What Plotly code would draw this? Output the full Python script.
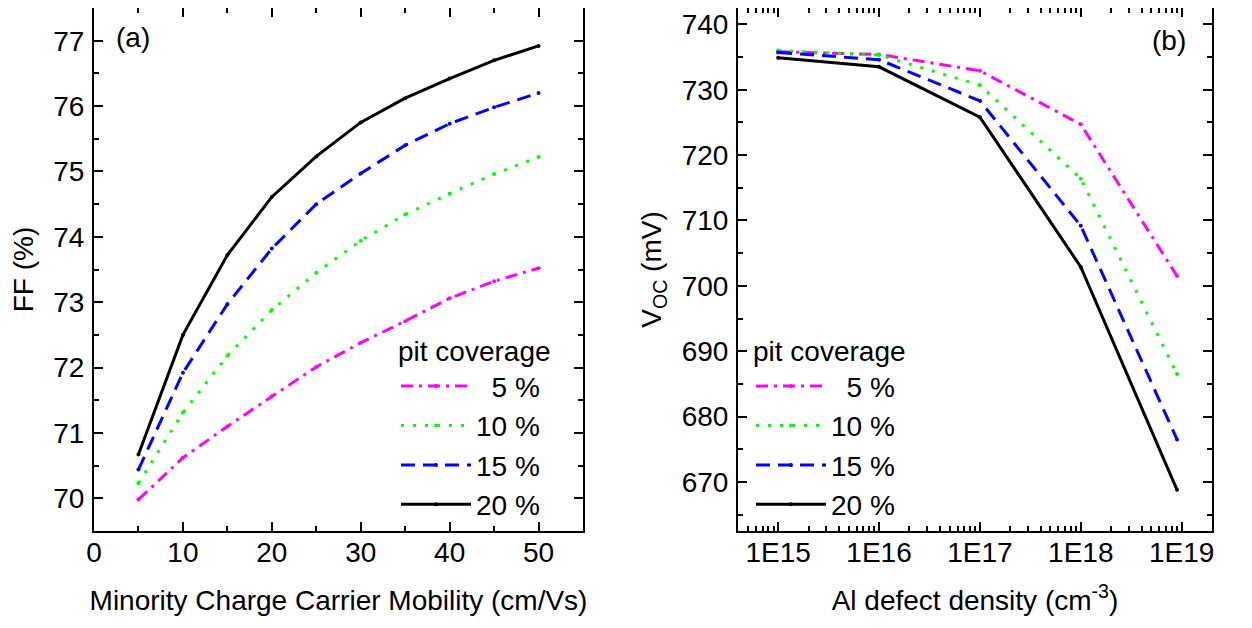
import plotly.graph_objects as go

# ---- data (a) ----
mobility = [5, 10, 15, 20, 25, 30, 35, 40, 45, 50]
ff_5 = [69.98, 70.62, 71.10, 71.56, 72.01, 72.38, 72.71, 73.06, 73.32, 73.52]
ff_10 = [70.23, 71.31, 72.18, 72.88, 73.45, 73.94, 74.34, 74.66, 74.96, 75.22]
ff_15 = [70.44, 71.92, 72.97, 73.82, 74.50, 74.97, 75.40, 75.73, 75.98, 76.20]
ff_20 = [70.67, 72.50, 73.72, 74.61, 75.23, 75.75, 76.12, 76.42, 76.70, 76.92]

# ---- data (b) ----
defect = [1e15, 1e16, 1e17, 1e18, 9e18]
voc_5 = [735.8, 735.4, 732.9, 724.7, 701.5]
voc_10 = [736.0, 735.3, 730.7, 716.4, 686.5]
voc_15 = [735.7, 734.6, 728.3, 709.2, 676.5]
voc_20 = [734.9, 733.5, 725.8, 702.9, 668.8]

labels = ["\u20075 %", "10 %", "15 %", "20 %"]
x_tickvals_b = [1e15, 1e16, 1e17, 1e18, 1e19]
x_ticktext_b = ["1E15", "1E16", "1E17", "1E18", "1E19"]

colors = ["#ff00ff", "#00ff00", "#0000ff", "#000000"]
dashes = ["12px,6px,3px,6px", "3px,9px", "14px,8px", "solid"]

FONT = "Liberation Sans, Arial, sans-serif"
FS = 28

fig = go.Figure()

ff_series = [ff_5, ff_10, ff_15, ff_20]
voc_series = [voc_5, voc_10, voc_15, voc_20]

for i in range(4):
    fig.add_trace(go.Scatter(
        x=mobility, y=ff_series[i], mode="lines+markers", name=labels[i],
        line=dict(color=colors[i], width=3, dash=dashes[i]),
        marker=dict(color=colors[i], size=4),
        xaxis="x", yaxis="y", legend="legend", legendgroup="a%d" % i,
    ))
for i in range(4):
    fig.add_trace(go.Scatter(
        x=defect, y=voc_series[i], mode="lines+markers", name=labels[i],
        line=dict(color=colors[i], width=3, dash=dashes[i]),
        marker=dict(color=colors[i], size=4),
        xaxis="x2", yaxis="y2", legend="legend2", legendgroup="b%d" % i,
    ))

W, H = 1252, 628
OFF = 8  # page body margin
PT, PB = 7 - OFF, 531 - OFF  # plot area top/bottom in figure px
PT = max(PT, 0)
PH = PB - PT

axis_common = dict(
    showline=True, linecolor="black", linewidth=2, mirror="allticks",
    ticks="inside", ticklen=9, tickwidth=2, tickcolor="black",
    showgrid=False, zeroline=False, automargin=False,
    tickfont=dict(family=FONT, size=FS, color="black"),
)

minor_log = [float(m) * 10.0 ** e for e in range(14, 20) for m in range(2, 10)]


def px_x(sx):
    return (sx - OFF) / W


def px_y(sy):
    return 1 - (sy - OFF - PT) / PH


fig.update_layout(
    width=W, height=H,
    paper_bgcolor="white", plot_bgcolor="white",
    margin=dict(l=0, r=0, t=PT, b=H - PB),
    font=dict(family=FONT, size=FS, color="black"),
    showlegend=True,
    xaxis=dict(
        domain=[px_x(94), px_x(583)], range=[0, 55], dtick=10, anchor="y",
        ticklabelstandoff=-5,
        minor=dict(ticks="inside", ticklen=5, tickwidth=2, dtick=5, tickcolor="black"),
        title=dict(text="Minority Charge Carrier Mobility (cm/Vs)", standoff=24,
                   font=dict(family=FONT, size=FS)),
        **axis_common,
    ),
    yaxis=dict(
        domain=[0, 1], range=[69.5, 77.5], dtick=1, anchor="x",
        ticklabelstandoff=2,
        minor=dict(ticks="inside", ticklen=5, tickwidth=2, dtick=0.5, tickcolor="black"),
        title=dict(text="FF (%)", standoff=14, font=dict(family=FONT, size=FS)),
        **axis_common,
    ),
    xaxis2=dict(
        domain=[px_x(738), px_x(1212)], type="log", range=[14.602, 19.301], anchor="y2",
        tickmode="array", tickvals=x_tickvals_b, ticktext=x_ticktext_b,
        ticklabelstandoff=-5,
        minor=dict(ticks="inside", ticklen=5, tickwidth=2, tickcolor="black",
                   tickmode="array", tickvals=minor_log),
        title=dict(text="Al defect density (cm<sup>-3</sup>)", standoff=24,
                   font=dict(family=FONT, size=FS)),
        **axis_common,
    ),
    yaxis2=dict(
        domain=[0, 1], range=[662.5, 742.5], dtick=10, anchor="x2",
        ticklabelstandoff=2,
        minor=dict(ticks="inside", ticklen=5, tickwidth=2, dtick=5, tickcolor="black"),
        title=dict(text="V<sub>OC</sub> (mV)", standoff=12, font=dict(family=FONT, size=FS)),
        **axis_common,
    ),
    legend=dict(
        x=px_x(396), y=px_y(325), xanchor="left", yanchor="top",
        xref="paper", yref="paper", itemwidth=70,
        title=dict(text="pit coverage", font=dict(family=FONT, size=FS)),
        font=dict(family=FONT, size=FS), bgcolor="rgba(0,0,0,0)",
        traceorder="grouped", tracegroupgap=0,
    ),
    legend2=dict(
        x=px_x(751), y=px_y(325), xanchor="left", yanchor="top",
        xref="paper", yref="paper", itemwidth=70,
        title=dict(text="pit coverage", font=dict(family=FONT, size=FS)),
        font=dict(family=FONT, size=FS), bgcolor="rgba(0,0,0,0)",
        traceorder="grouped", tracegroupgap=0,
    ),
    annotations=[
        dict(text="(a)", x=0.04, y=0.943, xref="x domain", yref="y domain",
             xanchor="left", yanchor="middle", showarrow=False,
             font=dict(family=FONT, size=FS)),
        dict(text="(b)", x=0.95, y=0.938, xref="x2 domain", yref="y2 domain",
             xanchor="right", yanchor="middle", showarrow=False,
             font=dict(family=FONT, size=FS)),
    ],
)

fig.write_html("out.html")
